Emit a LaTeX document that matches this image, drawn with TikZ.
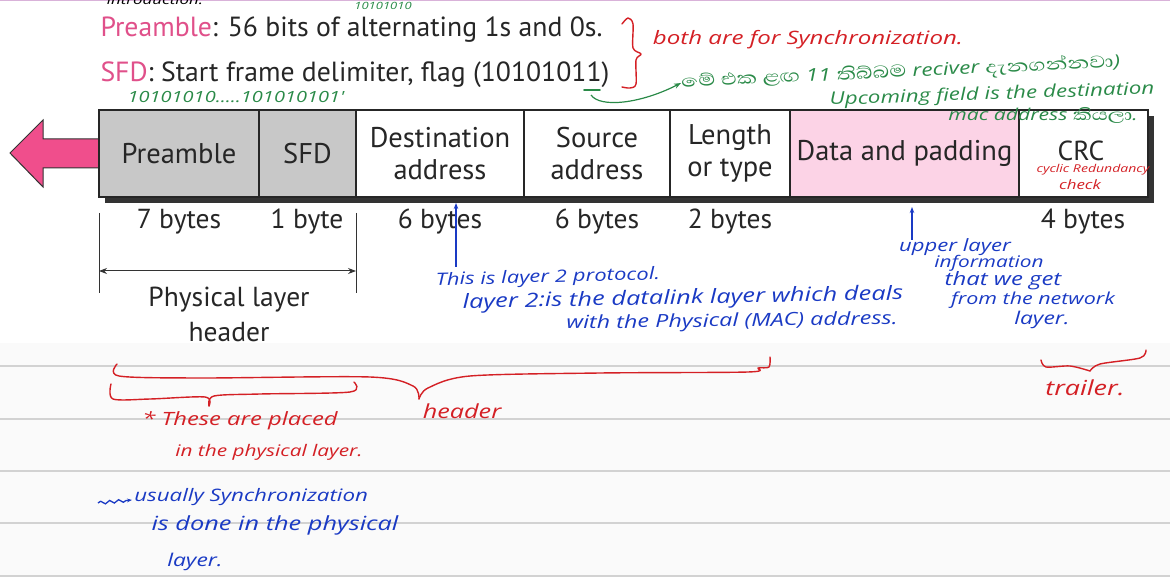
\documentclass[tikz,border=0pt]{standalone}
\usepackage{fontspec}
\setmainfont{PT Sans}
\newfontfamily\handfont{Open Sans}
\newfontfamily\sinhalafont[Script=Sinhala, Scale=1.25]{Abhaya Libre}
\usetikzlibrary{arrows.meta,decorations.pathmorphing,calc}

\definecolor{inkred}{HTML}{D42025}
\definecolor{inkblue}{HTML}{1A3AC4}
\definecolor{inkgreen}{HTML}{2A8A48}
\definecolor{labelpink}{HTML}{E0508A}
\definecolor{arrowpink}{HTML}{F04E8C}
\definecolor{datapink}{HTML}{FCD3E6}
\definecolor{cellgray}{HTML}{C8C8C8}
\definecolor{notepaper}{HTML}{FAFAFA}
\definecolor{ruleline}{HTML}{D2D2D2}

\tikzset{
  cell/.style={draw=black!85, line width=1.3pt, minimum height=87pt, inner sep=0pt,
               align=center, text=black!85, font=\fontsize{28.5}{32}\selectfont},
  bytes/.style={text=black!85, font=\fontsize{27.5}{32}\selectfont},
  ink/.style={inner sep=0pt, xscale=1.3, font=\handfont\itshape\fontsize{#1}{#1}\selectfont},
  ink/.default=14,
  redink/.style={ink=#1, text=inkred},
  redink/.default=14,
  blueink/.style={ink=#1, text=inkblue},
  blueink/.default=14,
  greenink/.style={ink=#1, text=inkgreen},
  greenink/.default=14,
  brace/.style={draw=inkred, line width=1.4pt, line cap=round, line join=round},
}

\begin{document}
\begin{tikzpicture}[x=1pt, y=-1pt]

    \useasboundingbox (0,0) rectangle (1170,577);
    \clip (0,0) rectangle (1170,577);

    % notebook paper below the slide
    \fill[notepaper] (0,343) rectangle (1170,577);
    \foreach \y in {366,419,471,523,576} {
        \draw[ruleline, line width=2pt] (0,\y) -- (1170,\y);
    }
    \draw[violet!30, line width=2pt] (0,0) -- (1170,0);

    % top lines of the slide
    \node[ink=13] (intro) at (155,0) {introduction.};
    \node[anchor=base west, font=\fontsize{27.7}{32}\selectfont, text=black!85] (preline) at (97,37)
        {\textcolor{labelpink}{Preamble}: 56 bits of alternating 1s and 0s.};
    \node[anchor=base west, font=\fontsize{27.7}{32}\selectfont, text=black!85] (sfdline) at (97,82)
        {\textcolor{labelpink}{SFD}: Start frame delimiter, flag (10101011)};

    % 1. Frame with shadow and arrow
    \fill[black!80] (105,116) rectangle (1154,203);
    \filldraw[fill=arrowpink, draw=black!80, line width=1pt]
        (99,139) -- (43,139) -- (43,120) -- (10,153) -- (43,187) -- (43,168) -- (99,168);

    \node[cell, fill=cellgray, minimum width=160pt] (pre)  at (179,153.5)   {Preamble};
    \node[cell, fill=cellgray, minimum width=97pt]  (sfd)  at (307.5,153.5) {SFD};
    \node[cell, fill=white,    minimum width=168pt] (dst)  at (440,153.5)   {Destination\\address};
    \node[cell, fill=white,    minimum width=146pt] (src)  at (597,153.5)   {Source\\address};
    \node[cell, fill=white,    minimum width=120pt] (len)  at (730,153.5)   {Length\\or type};
    \node[cell, fill=datapink, minimum width=229pt] (data) at (904.5,153.5) {Data and padding};
    \node[cell, fill=white,    minimum width=129pt] (crc)  at (1083.5,153.5) {};
    \node[bytes] (crctxt) at (1081,151) {CRC};

    % 2. Field sizes
    \node[bytes] (b1) at (179,222)  {7 bytes};
    \node[bytes] (b2) at (307,222)  {1 byte};
    \node[bytes] (b3) at (440,222)  {6 bytes};
    \node[bytes] (b4) at (597,222)  {6 bytes};
    \node[bytes] (b5) at (730,222)  {2 bytes};
    \node[bytes] (b6) at (1083,222) {4 bytes};

    % Physical layer header span
    \coordinate (phl) at (99,271);
    \coordinate (phr) at (356,271);
    \draw[black!80, line width=1pt] (99,213) -- (99,293);
    \draw[black!80, line width=1pt] (356,213) -- (356,293);
    \draw[black!80, line width=1pt, {Stealth[length=8pt]}-{Stealth[length=8pt]}] (phl) -- (phr);
    \node[align=center, font=\fontsize{27.5}{35}\selectfont, text=black!85] (phh) at (229,314)
        {Physical layer\\header};

    % 3. Notes in green
    \node[greenink=10] (bits1) at (383,6) {10101010};
    \node[greenink=15.4] (bits2) at (236,97) {10101010.....101010101'};
    \draw[inkgreen, line width=1.6pt, line cap=round] (584,90) -- (600,90);
    \coordinate (ul) at (591,95);
    \node[greenink=17.5, rotate=3.5, anchor=west] (sin) at (681,83)
        {{\sinhalafont මේ එක ළඟ} 11 {\sinhalafont තිබ්බම} reciver {\sinhalafont දැනගන්නවා})};
    \draw[inkgreen, line width=1.2pt, -{Stealth[length=7pt]}] (ul) .. controls (600,108) and (640,104) .. (sin.west);
    \node[greenink=17.3, rotate=2.5] (upc) at (992,95) {Upcoming field is the destination};
    \node[greenink=16.3] (mac) at (1043,115) {mac address {\sinhalafont කියලා}.};

    % 4. Notes in red
    \draw[brace] plot[smooth] coordinates {(622,24) (628,18) (633,24) (633,48) (641,54) (636,60) (636,84) (630,88) (622,87)};
    \node[redink=18.5] (sync) at (808,40) {both are for Synchronization.};
    \node[redink=10.8] (crc1) at (1093,170) {cyclic Redundancy};
    \node[redink=13] (crc2) at (1080,185) {check};

    \draw[brace] plot[smooth] coordinates {(117,364) (119,376) (200,378) (370,377) (413,386) (419,399)};
    \draw[brace] plot[smooth] coordinates {(419,399) (428,388) (470,376) (600,373) (748,372) (758,368) (769,367) (770,357)};
    \draw[brace] plot[smooth] coordinates {(111,384) (113,399) (150,399) (205,397) (209,406)};
    \draw[brace] plot[smooth] coordinates {(209,406) (214,396) (260,394) (350,392) (354,382)};
    \draw[brace] plot[smooth] coordinates {(1041,360) (1046,367) (1070,366) (1090,371)};
    \draw[brace] plot[smooth] coordinates {(1090,371) (1100,364) (1140,358) (1146,350)};

    \node[redink=18.3] (placed) at (240,421) {* These are placed};
    \node[redink=16]   (inphy)  at (269,452) {in the physical layer.};
    \node[redink=19.4] (hdr)    at (462,411) {header};
    \node[redink=20.7] (trl)    at (1085,388) {trailer.};

    % 5. Notes in blue
    \coordinate (a1) at (456,267);
    \coordinate (a1top) at (456,203);
    \draw[inkblue, line width=1.3pt, -{Stealth[length=6pt]}] (a1) -- (a1top);
    \node[blueink=17, rotate=2] (l2a) at (548,278) {This is layer 2 protocol.};
    \node[blueink=19.6, rotate=1.5] (l2b) at (683,299) {layer 2:is the datalink layer which deals};
    \node[blueink=18, rotate=1] (l2c) at (732,322) {with the Physical (MAC) address.};

    \coordinate (a2) at (912,240);
    \coordinate (a2top) at (912,207);
    \draw[inkblue, line width=1.3pt, -{Stealth[length=6pt]}] (a2) -- (a2top);
    \node[blueink=17]   (up1) at (955,247)  {upper layer};
    \node[blueink=16]   (up2) at (989,263)  {information};
    \node[blueink=18.4] (up3) at (1003,281) {that we get};
    \node[blueink=16.5] (up4) at (1033,300) {from the network};
    \node[blueink=17.6] (up5) at (1042,320) {layer.};

    \node[blueink=17.2, anchor=west] (usu) at (134,497) {usually Synchronization};
    \draw[inkblue, line width=1.3pt, -{Stealth[length=5pt]},
          decorate, decoration={snake, amplitude=1.5pt, segment length=9pt, post length=4pt}]
        ($(usu.west)+(-36,6)$) -- ($(usu.west)+(-2,3)$);
    \node[blueink=19.5] (done) at (275,525) {is done in the physical};
    \node[blueink=17.6] (lay)  at (195,562) {layer.};

\end{tikzpicture}
\end{document}
